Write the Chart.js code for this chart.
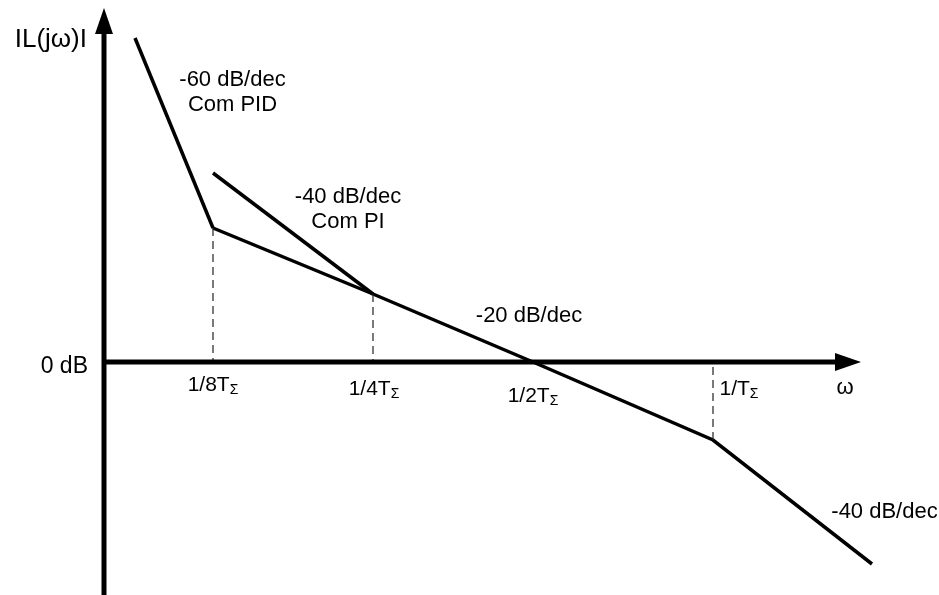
<!DOCTYPE html>
<html>
<head>
<meta charset="utf-8">
<script src="https://cdn.jsdelivr.net/npm/chart.js@4/dist/chart.umd.min.js"></script>
<style>
  html, body { margin: 0; padding: 0; background: #fff; }
  #wrap { width: 939px; height: 595px; }
</style>
</head>
<body>
<div id="wrap"><canvas id="bode"></canvas></div>
<script>
// Asymptotic Bode magnitude plot (arbitrary units: x = log frequency, y = dB)

// break frequencies along the ω axis
const breakX      = [10.9, 26.9, 42.9, 60.9];
const breakLabels = ["1/8T", "1/4T", "1/2T", "1/T"];
const breakSub    = "Σ";

// -60 dB/dec branch (with PID)
const pidX = [3.1, 10.9];
const pidY = [32.4, 13.4];

// -40 dB/dec branch (with PI)
const piX = [10.9, 26.9];
const piY = [18.9, 6.8];

// main asymptote: -20 dB/dec then -40 dB/dec
const mainX = [10.9, 26.9, 42.9, 60.9, 76.8];
const mainY = [13.4, 6.8, 0, -7.8, -20.2];

// slope texts
const slopeTexts = ["-60 dB/dec", "Com PID", "-40 dB/dec", "Com PI", "-20 dB/dec", "-40 dB/dec"];
const axisTexts  = { y: "IL(jω)I", zero: "0 dB", x: "ω" };

const toPts = (xs, ys) => xs.map((x, i) => ({ x: x, y: ys[i] }));

const lineStyle = {
  borderColor: "#000",
  borderWidth: 3.5,
  pointRadius: 0,
  fill: false,
  tension: 0
};

// dashed drop lines from the corners to the 0 dB axis
const dropIdx = [0, 1, 3];
const dropSets = dropIdx.map(i => ({
  data: [{ x: mainX[i], y: mainY[i] }, { x: mainX[i], y: 0 }],
  borderColor: "#222",
  borderWidth: 1.2,
  borderDash: [8, 5],
  pointRadius: 0,
  fill: false
}));

// axes, arrow heads and texts drawn with the chart's own scales
const bodeDecor = {
  id: "bodeDecor",
  afterDatasetsDraw(chart) {
    const { ctx, scales } = chart;
    const sx = v => scales.x.getPixelForValue(v);
    const sy = v => scales.y.getPixelForValue(v);
    const x0 = sx(0), y0 = sy(0);

    ctx.save();
    ctx.fillStyle = "#000";
    ctx.strokeStyle = "#000";

    // y axis
    ctx.lineWidth = 5;
    ctx.beginPath();
    ctx.moveTo(x0, chart.height);
    ctx.lineTo(x0, 30);
    ctx.stroke();
    ctx.beginPath();
    ctx.moveTo(x0, 8);
    ctx.lineTo(x0 - 9, 34);
    ctx.lineTo(x0 + 9, 34);
    ctx.closePath();
    ctx.fill();

    // x axis
    ctx.beginPath();
    ctx.moveTo(x0 - 2, y0);
    ctx.lineTo(838, y0);
    ctx.stroke();
    ctx.beginPath();
    ctx.moveTo(861, y0);
    ctx.lineTo(835, y0 - 9);
    ctx.lineTo(835, y0 + 9);
    ctx.closePath();
    ctx.fill();

    const font = '22px "Liberation Sans", Arial, sans-serif';
    const tickFont = '21px "Liberation Sans", Arial, sans-serif';
    const subFont = '14px "Liberation Sans", Arial, sans-serif';
    ctx.font = font;
    ctx.textBaseline = "alphabetic";

    // slope texts
    ctx.textAlign = "center";
    const slopePos = [[12.85, 27.6], [12.85, 25.1], [24.4, 15.9], [24.4, 13.4], [42.5, 4.0], [78.05, -15.6]];
    slopeTexts.forEach((t, i) => ctx.fillText(t, sx(slopePos[i][0]), sy(slopePos[i][1])));

    // axis texts
    ctx.textAlign = "right";
    ctx.font = '23px "Liberation Sans", Arial, sans-serif';
    ctx.fillText(axisTexts.zero, 88, y0 + 11);
    ctx.font = '26px "Liberation Sans", Arial, sans-serif';
    ctx.fillText(axisTexts.y, 87, 47);
    ctx.font = font;
    ctx.textAlign = "center";
    ctx.fillText(axisTexts.x, 845, 394);

    // break frequency labels with subscript Σ
    const labelOffset = [0, 1, 0, 26];
    const labelBase   = [391, 395, 402, 395];
    breakLabels.forEach((t, i) => {
      ctx.font = tickFont;
      const w1 = ctx.measureText(t).width;
      ctx.font = subFont;
      const w2 = ctx.measureText(breakSub).width;
      const left = sx(breakX[i]) + labelOffset[i] - (w1 + w2) / 2;
      ctx.textAlign = "left";
      ctx.font = tickFont;
      ctx.fillText(t, left, labelBase[i]);
      ctx.font = subFont;
      ctx.fillText(breakSub, left + w1, labelBase[i] + 3);
    });

    ctx.restore();
  }
};

new Chart(document.getElementById("bode").getContext("2d"), {
  type: "line",
  data: {
    datasets: [
      ...dropSets,
      Object.assign({ data: toPts(pidX, pidY) }, lineStyle),
      Object.assign({ data: toPts(piX, piY) }, lineStyle),
      Object.assign({ data: toPts(mainX, mainY) }, lineStyle)
    ]
  },
  options: {
    responsive: true,
    maintainAspectRatio: false,
    animation: false,
    layout: { padding: 0 },
    plugins: {
      legend: { display: false },
      tooltip: { enabled: false }
    },
    scales: {
      x: { type: "linear", min: -10.4, max: 83.5, display: false },
      y: { type: "linear", min: -23.3, max: 36.2, display: false }
    }
  },
  plugins: [bodeDecor]
});
</script>
</body>
</html>
